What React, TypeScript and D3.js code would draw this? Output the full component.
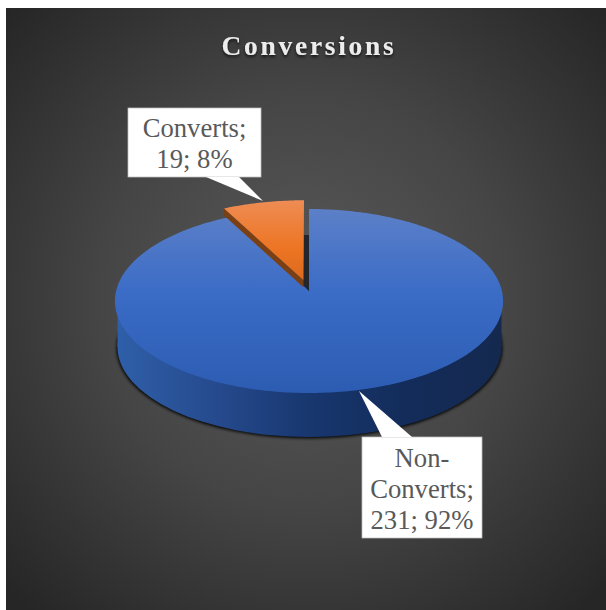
import React from "react";
import * as d3 from "d3";

const title = "Conversions";
const categories = ["Non-Converts", "Converts"];
const values = [231, 19];
const labelLines = [
  ["Non-", "Converts;"],
  ["Converts;"],
];

const W = 606;
const H = 610;
const CX = 309;
const APEX_Y = 291;
const RIM_A = 90.9; // vertical scale of the tilted disc
const RIM_B = 192.9; // horizontal scale of the tilted disc
const PERSP = -0.1087; // foreshortening towards the back of the disc
const EXPLODE = 0.123;
const WEDGE_DEPTH = 7;

// Projects a point of the unit disc onto the tilted page plane.
const project = (x: number, y: number): [number, number] => {
  const w = 1 + PERSP * y;
  return [CX + (RIM_B * x) / w, APEX_Y + (RIM_A * y) / w];
};

const onDisc = (a: number, r = 1): [number, number] => [r * Math.sin(a), -r * Math.cos(a)];

const pieGen = d3
  .pie<number>()
  .sort(null)
  .startAngle(0)
  .endAngle(2 * Math.PI);
const arcs = pieGen(values);
const total = d3.sum(values);

const lineGen = d3.line<[number, number]>();

// Outline of one slice, sampled along its rim.
const slicePoints = (start: number, end: number, ox = 0, oy = 0): [number, number][] => {
  const n = Math.max(8, Math.ceil((end - start) * 60));
  const pts: [number, number][] = [project(ox, oy)];
  d3.range(n + 1).forEach((i) => {
    const a = start + ((end - start) * i) / n;
    const [x, y] = onDisc(a);
    pts.push(project(x + ox, y + oy));
  });
  return pts;
};

const Callout = ({
  rect,
  base,
  tip,
  lines,
  baseline,
}: {
  rect: [number, number, number, number];
  base: [number, number];
  tip: [number, number];
  lines: string[];
  baseline: number;
}) => {
  const [x0, y0, x1, y1] = rect;
  const yEdge = tip[1] < y0 ? y0 : y1;
  const cx = (x0 + x1) / 2;
  return (
    <g>
      <rect x={x0} y={y0} width={x1 - x0} height={y1 - y0} fill="#fff" stroke="#bfbfbf" strokeWidth={0.75} />
      <path d={`M${base[0]},${yEdge}L${tip[0]},${tip[1]}L${base[1]},${yEdge}Z`} fill="#fff" />
      {lines.map((t, i) => (
        <text
          key={t}
          x={cx}
          y={baseline + i * 31}
          textAnchor="middle"
          fontFamily="'Liberation Serif', serif"
          fontSize={26.67}
          fill="#595959"
        >
          {t}
        </text>
      ))}
    </g>
  );
};

export default function App() {
  const [big, small] = arcs;
  const mid = (small.startAngle + small.endAngle) / 2;
  const [ox, oy] = onDisc(mid, EXPLODE);
  const bigPts = slicePoints(big.startAngle, big.endAngle);
  const smallPts = slicePoints(small.startAngle, small.endAngle, ox, oy);
  const apex = project(0, 0);
  const smallApex = project(ox, oy);

  // Side wall of the pulled-out slice: its lower left edge dropped by the wedge depth.
  const leftTip = smallPts[1];
  const sideWall: [number, number][] = [
    leftTip,
    smallApex,
    [smallApex[0], smallApex[1] + WEDGE_DEPTH],
    [leftTip[0], leftTip[1] + WEDGE_DEPTH],
  ];
  const notchWall: [number, number][] = [
    [smallApex[0], 235],
    [apex[0], 235],
    apex,
    [smallApex[0], apex[1] - 6],
  ];

  const pct = (v: number) => `${Math.round((v / total) * 100)}%`;
  const lastLine = (i: number) => `${values[i]}; ${pct(values[i])}`;

  return (
    <svg
      width={W}
      height={H}
      viewBox={`0 0 ${W} ${H}`}
      style={{ position: "absolute", left: 0, top: 0, background: "#fff" }}
    >
      <defs>
        <radialGradient id="bg" gradientUnits="userSpaceOnUse" cx={306} cy={300} r={415}>
          <stop offset="0" stopColor="#5a5a5a" />
          <stop offset="0.5" stopColor="#454545" />
          <stop offset="1" stopColor="#262626" />
        </radialGradient>
        <linearGradient id="top" gradientUnits="userSpaceOnUse" x1={0} y1={209} x2={0} y2={393}>
          <stop offset="0" stopColor="#5c80c8" />
          <stop offset="0.45" stopColor="#3b6cc6" />
          <stop offset="1" stopColor="#2c5cb2" />
        </linearGradient>
        <linearGradient id="side" gradientUnits="userSpaceOnUse" x1={117} y1={0} x2={501} y2={0}>
          <stop offset="0" stopColor="#2f5fa9" />
          <stop offset="0.27" stopColor="#25498c" />
          <stop offset="0.5" stopColor="#18376f" />
          <stop offset="0.75" stopColor="#132c5a" />
          <stop offset="1" stopColor="#15294f" />
        </linearGradient>
        <linearGradient id="orange" gradientUnits="userSpaceOnUse" x1={0} y1={199} x2={0} y2={280}>
          <stop offset="0" stopColor="#ee8d55" />
          <stop offset="0.6" stopColor="#ed7524" />
          <stop offset="1" stopColor="#dc6a1e" />
        </linearGradient>
        <filter id="soft" x="-10%" y="-10%" width="120%" height="120%">
          <feGaussianBlur stdDeviation={1.6} />
        </filter>
        <filter id="titleShadow" x="-10%" y="-30%" width="120%" height="170%">
          <feDropShadow dx={0} dy={2} stdDeviation={1.4} floodColor="#000" floodOpacity={0.7} />
        </filter>
      </defs>

      <rect x={6} y={8} width={W - 6} height={H - 8} fill="url(#bg)" />

      <text
        x={309}
        y={55}
        textAnchor="middle"
        fontFamily="'Liberation Serif', serif"
        fontWeight="bold"
        fontSize={27.5}
        letterSpacing={2.7}
        fill="#ececec"
        filter="url(#titleShadow)"
      >
        {title}
      </text>

      {/* base of the disc with its contact shadow */}
      <ellipse cx={309.5} cy={348} rx={193} ry={90.5} fill="#000" opacity={0.9} filter="url(#soft)" />
      <ellipse cx={309.5} cy={347} rx={192} ry={90} fill="url(#side)" />
      <rect x={117.5} y={301} width={384} height={46} fill="url(#side)" />

      <path d={`${lineGen(bigPts)}Z`} fill="url(#top)" />

      {/* inner wall of the notch left by the pulled-out slice */}
      <path d={`${lineGen(notchWall)}Z`} fill="#23262c" />

      <path d={`${lineGen(sideWall)}Z`} fill="#7a3f13" />
      <path d={`${lineGen(smallPts)}Z`} fill="url(#orange)" />

      <Callout
        rect={[128, 108, 261, 177]}
        base={[206, 239]}
        tip={[263, 201]}
        lines={[...labelLines[1], lastLine(1)]}
        baseline={137}
      />
      <Callout
        rect={[362, 437, 482, 538]}
        base={[382, 412]}
        tip={[359, 391]}
        lines={[...labelLines[0], lastLine(0)]}
        baseline={467}
      />
      <title>{categories.join(", ")}</title>
    </svg>
  );
}
